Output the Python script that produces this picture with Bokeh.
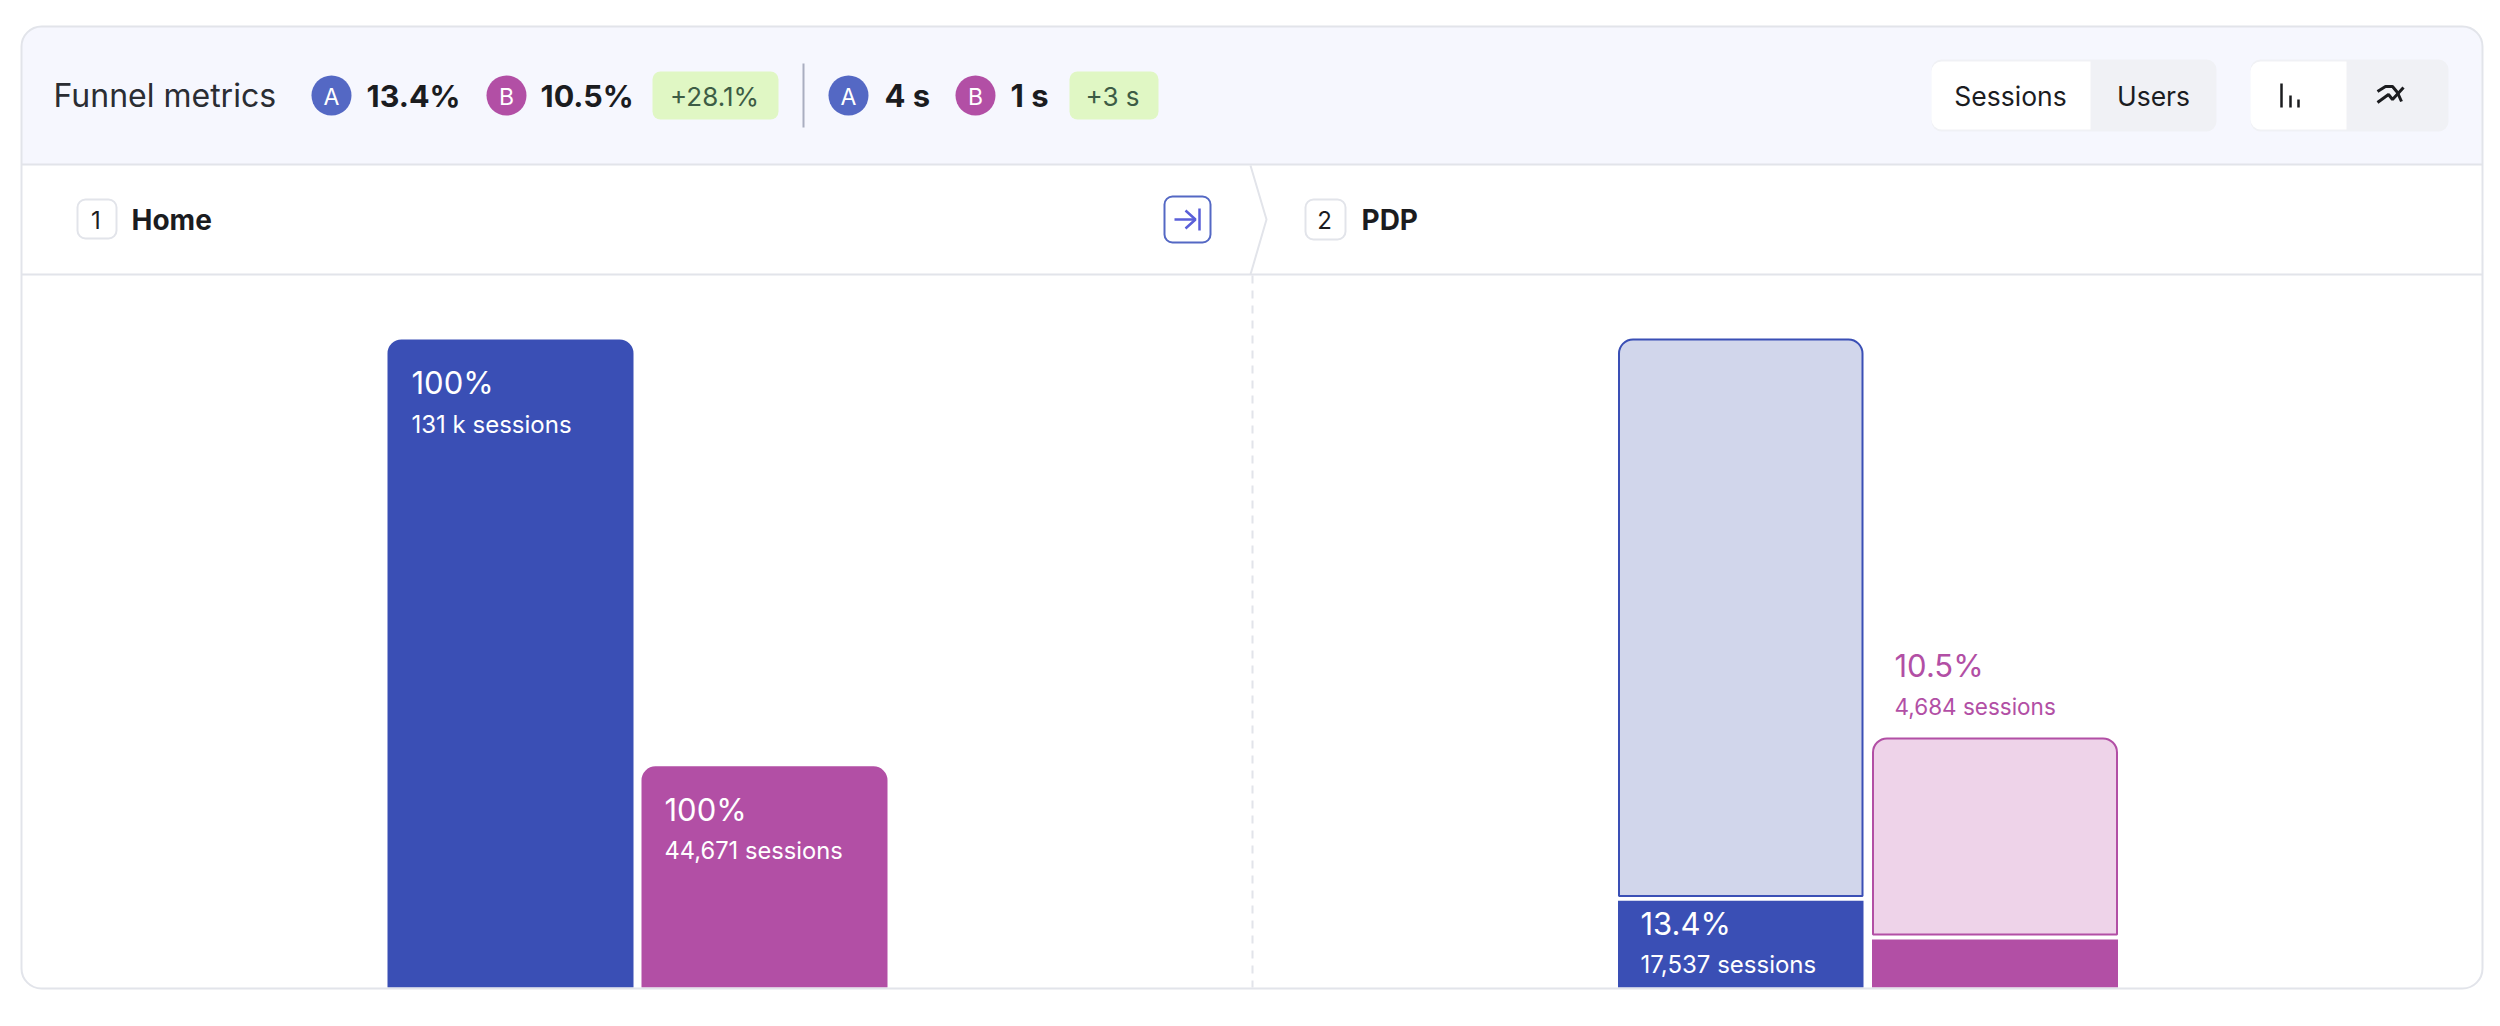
from bokeh.plotting import figure
from bokeh.models import Range1d
from bokeh.core.properties import value
from bokeh.embed import file_html
from bokeh.resources import INLINE

# ---- data ----
title = "Funnel metrics"
steps = ["Home", "PDP"]
home_sessions = [130873, 44671]
pdp_sessions = [17537, 9700]          # drawn height of the solid bars
pdp_ghost_top = [130873, 50300]
pdp_ghost_bottom = [18470, 10700]
home_pct = ["100%", "100%"]
home_lbl = ["131 k sessions", "44,671 sessions"]
pdp_pct = ["13.4%", "10.5%"]
pdp_lbl = ["17,537 sessions", "4,684 sessions"]
conv = ["13.4%", "10.5%", "+28.1%"]
dur = ["4 s", "1 s", "+3 s"]
toggle = ["Sessions", "Users"]

BLUE, PURPLE = "#3A4FB5", "#B24FA5"
LBLUE, LPURPLE = "#D1D6EB", "#EED3E9"
CA, CB = "#5468C4", "#B24FA5"
LINE = "#E2E4EA"
INK = "#1B1C1F"
F = value("Inter")

W, H = 2490, 1020
D = 1.0
p = figure(width=W, height=H, output_backend="svg", toolbar_location=None,
           x_range=Range1d(0, W), y_range=Range1d(H + D, D),
           x_axis_location=None, y_axis_location=None, min_border=0,
           outline_line_color=None, background_fill_color="white", border_fill_color="white")
p.grid.visible = False

# sessions scale: baseline at y=988, 130873 sessions at y=340
BASE, TOP = 988.0, 340.0
per_px = home_sessions[0] / (BASE - TOP)
p.extra_y_ranges["sessions"] = Range1d((BASE - H - D) * per_px, (BASE - D) * per_px)


def box(l, r, t, b, fill, line=None, lw=2, radius=0):
    p.quad(left=[l], right=[r], top=[t], bottom=[b], fill_color=fill,
           line_color=line, line_width=lw, border_radius=radius)


def txt(x, y, s, size, color=INK, bold=False, align="left"):
    p.text(x=[x - 1], y=[y], text=[s], text_font=F, text_font_size=f"{size}px", text_color=color,
           text_font_style="bold" if bold else "normal", text_align=align, text_baseline="middle")


def badge(cx, s, color):
    p.circle(x=[cx], y=[96], radius=20, fill_color=color, line_color=None)
    txt(cx + 1, 97, s, 23, "white", align="center")


# card
box(21, 2482, 27, 989, "white", None, radius=20)
box(21, 2482, 27, 165, "#F6F7FE", None, radius=(20, 20, 0, 0))
p.segment(x0=[21, 21], y0=[165, 275], x1=[2482, 2482], y1=[165, 275], line_color=LINE, line_width=2)

# header metrics
txt(54, 96, title, 32, "#2B2D33")
badge(331, "A", CA)
txt(367, 96, conv[0], 30.5, bold=True)
badge(506, "B", CB)
txt(541, 96, conv[1], 30.5, bold=True)
box(652, 778, 72, 120, "#E0F7C4", None, radius=8)
txt(715, 97, conv[2], 26, "#3D5C45", align="center")
p.segment(x0=[803], y0=[64], x1=[803], y1=[128], line_color="#A9AEC0", line_width=2)
badge(848, "A", CA)
txt(885, 96, dur[0], 31, bold=True)
badge(975, "B", CB)
txt(1011, 96, dur[1], 31, bold=True)
box(1069, 1158, 72, 120, "#E0F7C4", None, radius=8)
txt(1113, 97, dur[2], 26, "#3D5C45", align="center")

# toggles
box(1931, 2216, 60, 132, "#F0F1F5", None, radius=10)
box(1931, 2090, 62, 130, "white", None, radius=(10, 0, 0, 10))
txt(2011, 96, toggle[0], 26.5, align="center")
txt(2154, 96, toggle[1], 26.5, align="center")
box(2250, 2448, 60, 132, "#F0F1F5", None, radius=10)
box(2250, 2346, 62, 130, "white", None, radius=(10, 0, 0, 10))
p.segment(x0=[2281, 2290, 2298], y0=[84, 96, 100], x1=[2281, 2290, 2298], y1=[108, 108, 108],
          line_color=INK, line_width=2.5)
p.multi_line(xs=[[2377, 2388, 2392, 2403], [2377, 2385, 2392, 2397, 2401]],
             ys=[[103, 95, 100, 88], [92, 87, 87, 93, 102]], line_color=INK, line_width=3)

# step row
box(77, 116, 200, 239, "white", LINE, radius=8)
txt(96.5, 220, "1", 24, align="center")
txt(132, 220, steps[0], 28, bold=True)
box(1305, 1345, 200, 240, "white", LINE, radius=8)
txt(1325, 220, "2", 24, align="center")
txt(1362, 220, steps[1], 28, bold=True)
box(1164, 1210, 197, 243, "white", CA, radius=8)
p.multi_line(xs=[[1174, 1195], [1185, 1195, 1185], [1199, 1199]],
             ys=[[220, 220], [211, 220, 229], [209, 231]], line_color="#5A5FD8", line_width=2.5)
p.line(x=[1250, 1266, 1250], y=[166, 220, 275], line_color=LINE, line_width=2)
p.segment(x0=[1252], y0=[276], x1=[1252], y1=[988], line_color=LINE, line_width=2, line_dash="8 7")

# bars
R = 14
bar_l = [387, 641, 1617.5, 1871.5]
bar_r = [633, 887, 1863, 2117.5]
p.quad(left=bar_l[:2], right=bar_r[:2], top=home_sessions, bottom=[0, 0], fill_color=[BLUE, PURPLE],
       line_color=None, y_range_name="sessions", border_radius=(R, R, 0, 0))
p.quad(left=[bar_l[2] + 1, bar_l[3] + 1], right=[bar_r[2] - 1, bar_r[3] - 1], top=pdp_ghost_top,
       bottom=pdp_ghost_bottom, fill_color=[LBLUE, LPURPLE], line_color=[BLUE, PURPLE], line_width=2,
       y_range_name="sessions", border_radius=(R, R, 0, 0))
p.quad(left=bar_l[2:], right=bar_r[2:], top=pdp_sessions, bottom=[0, 0], fill_color=[BLUE, PURPLE],
       line_color=None, y_range_name="sessions")

# bar labels
txt(412, 383, home_pct[0], 31, "white")
txt(412, 425, home_lbl[0], 24, "white")
txt(665, 810, home_pct[1], 31, "white")
txt(665, 851, home_lbl[1], 23.7, "white")
txt(1641, 924, pdp_pct[0], 31, "white")
txt(1641, 965, pdp_lbl[0], 24, "white")
txt(1895, 666, pdp_pct[1], 31, PURPLE)
txt(1895, 707, pdp_lbl[1], 22.5, PURPLE)

# card outline on top
box(21, 2482, 27, 989, None, LINE, 2, radius=20)

open("out.html", "w").write(file_html(p, INLINE))
